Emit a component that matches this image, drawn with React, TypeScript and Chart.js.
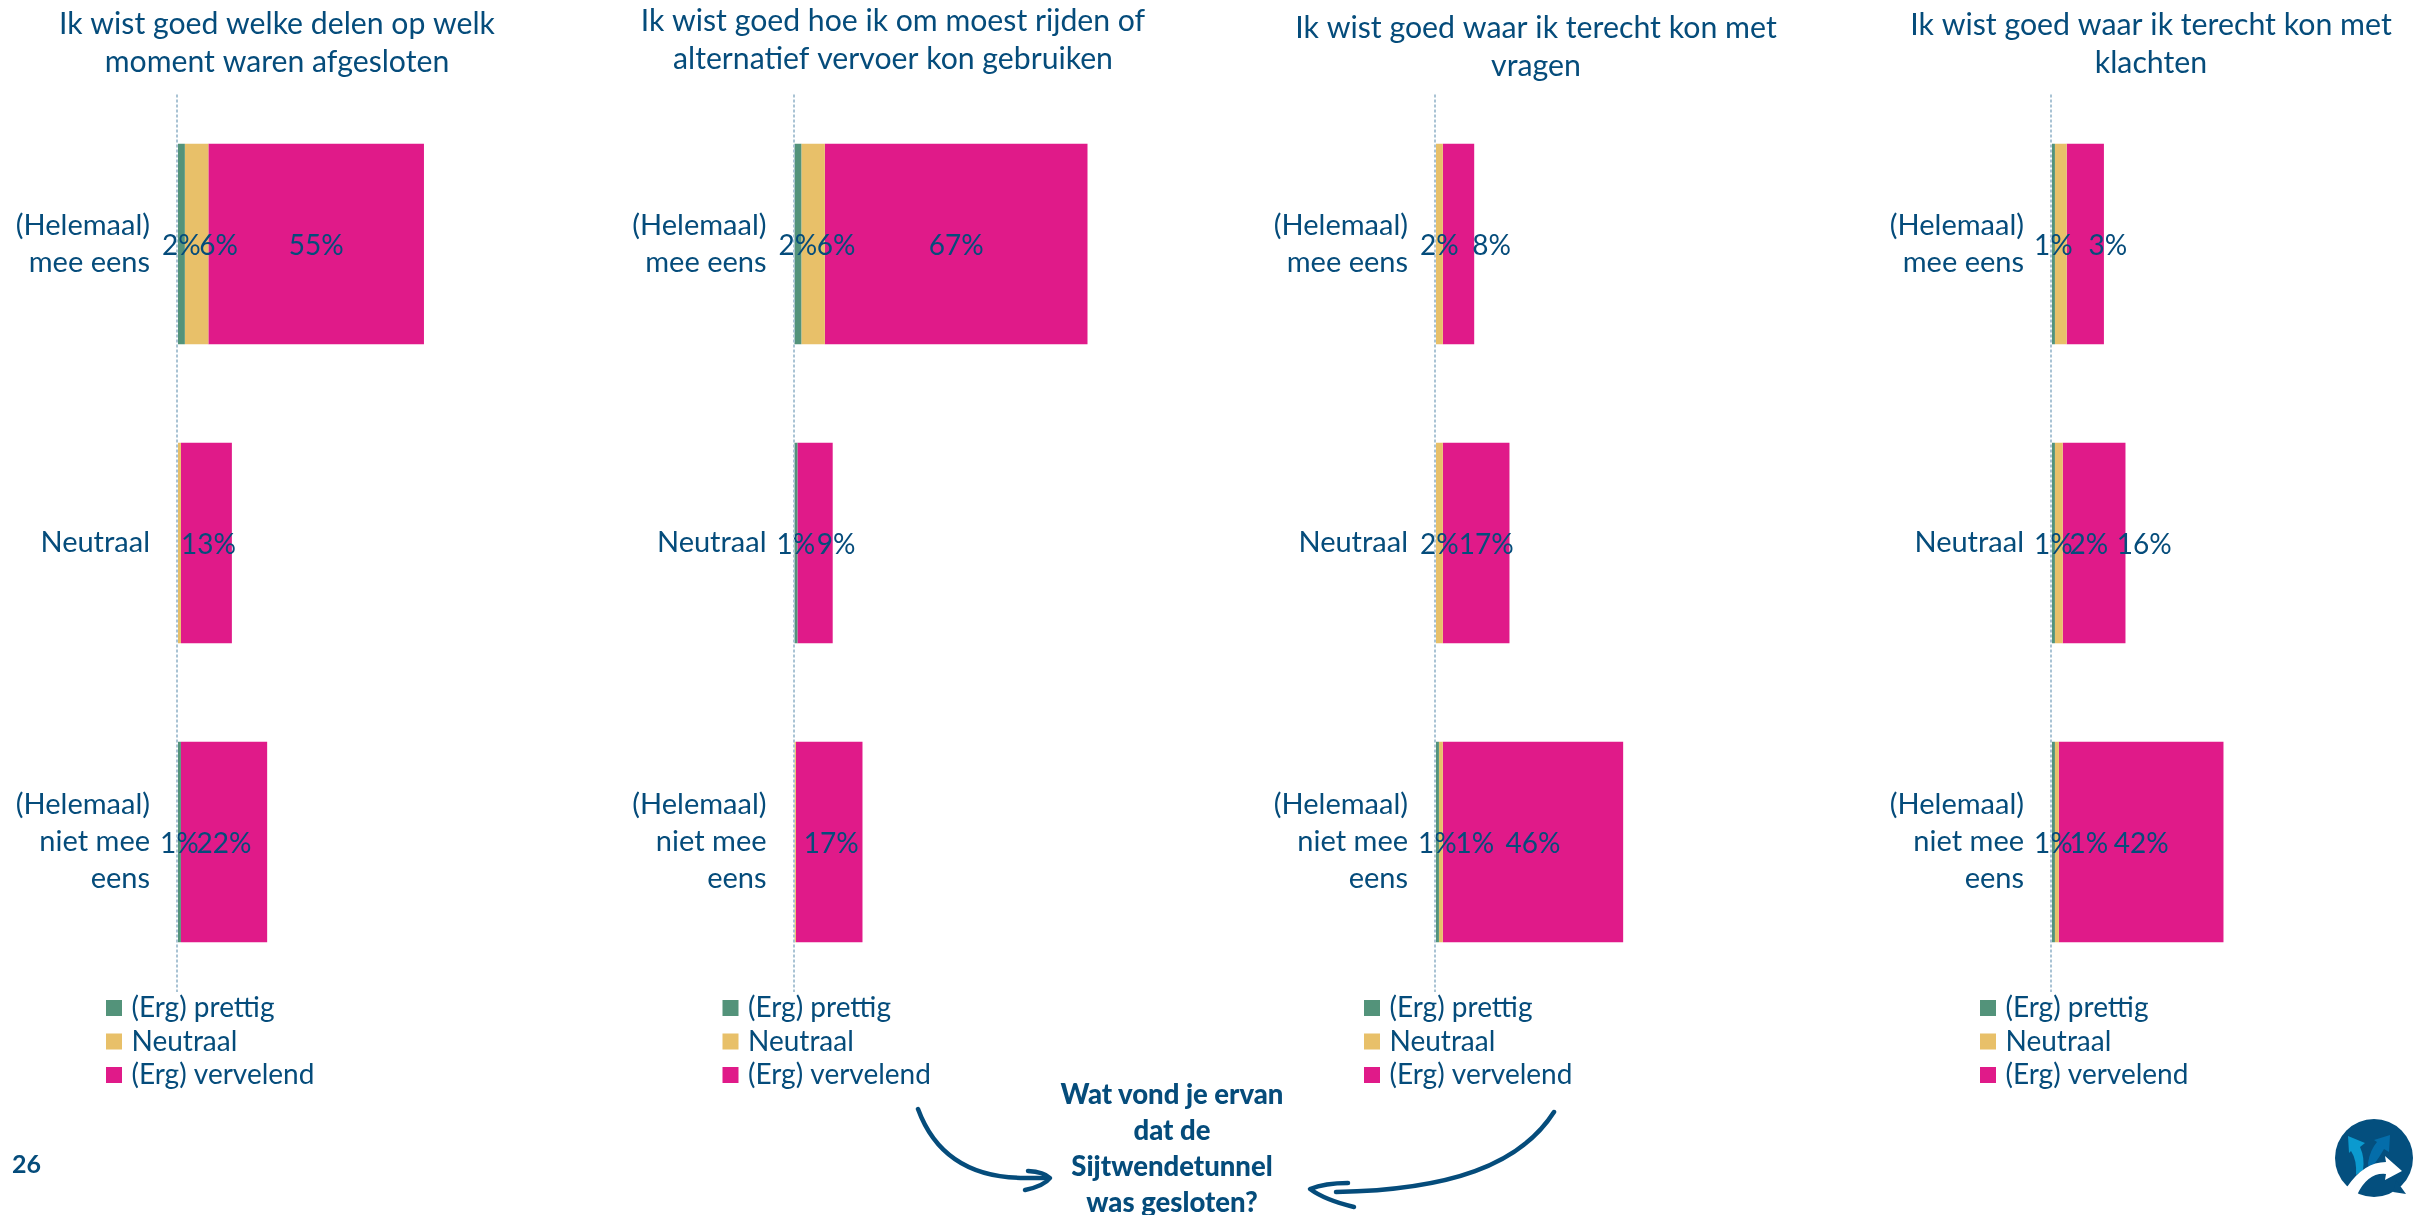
import React, { useEffect, useRef } from "react";
import { Chart, registerables } from "chart.js";

Chart.register(...registerables);

// ---- Data ----
const categories = [["(Helemaal)", "mee eens"], "Neutraal", ["(Helemaal)", "niet mee", "eens"]];
const seriesNames = ["(Erg) prettig", "Neutraal", "(Erg) vervelend"];

const delenPrettig = [2, 0, 1];
const delenNeutraal = [6, 1, 0];
const delenVervelend = [55, 13, 22];

const rijdenPrettig = [2, 1, 0];
const rijdenNeutraal = [6, 0, 0.6];
const rijdenVervelend = [67, 9, 17];

const vragenPrettig = [0, 0, 1];
const vragenNeutraal = [2, 2, 1];
const vragenVervelend = [8, 17, 46];

const klachtenPrettig = [1, 1, 1];
const klachtenNeutraal = [3, 2, 1];
const klachtenVervelend = [9.5, 16, 42];

const titleDeel = [
  ["Ik wist goed welke delen op welk", "moment waren afgesloten"],
  ["Ik wist goed hoe ik om moest rijden of", "alternatief vervoer kon gebruiken"],
  ["Ik wist goed waar ik terecht kon met", "vragen"],
  ["Ik wist goed waar ik terecht kon met", "klachten"],
];

const calloutLines = ["Wat vond je ervan", "dat de", "Sijtwendetunnel", "was gesloten?"];
const pageNumber = "26";

// ---- Styling and layout ----
const INK = "#054C7B";
const COLORS = ["#53937A", "#E8C069", "#E01A89"];
const FONT = "Lato, 'Noto Sans', sans-serif";
const PX_PER_PERCENT = 3.92;
const PLOT_TOP = 94.5;

// Which segments carry a value label, and how far each label sits from its segment centre.
const panels = [
  {
    series: [delenPrettig, delenNeutraal, delenVervelend],
    shown: [[1, 0, 1], [1, 0, 0], [1, 1, 1]],
    nudge: [[0, 0, 0], [22, 0, 0], [0, 2, 0]],
    left: 0, width: 554, axisX: 177, titleSize: 30.2, titleTop: 5.5,
  },
  {
    series: [rijdenPrettig, rijdenNeutraal, rijdenVervelend],
    shown: [[1, 1, 0], [1, 0, 0], [1, 1, 1]],
    nudge: [[0, 0, 0], [23, 0, 0], [0, 21, 2]],
    left: 620, width: 546, axisX: 793.5, titleSize: 30.2, titleTop: 2,
  },
  {
    series: [vragenPrettig, vragenNeutraal, vragenVervelend],
    shown: [[0, 0, 1], [1, 1, 1], [1, 1, 1]],
    nudge: [[0, 0, 0], [0, 0, 34], [33, 10, 0]],
    left: 1266, width: 540, axisX: 1435, titleSize: 30.3, titleTop: 9,
  },
  {
    series: [klachtenPrettig, klachtenNeutraal, klachtenVervelend],
    shown: [[1, 1, 1], [1, 1, 1], [0, 1, 1]],
    nudge: [[0, 0, 0], [47, 30, 32], [0, 50, 0]],
    left: 1881, width: 540, axisX: 2051, titleSize: 30.3, titleTop: 6.5,
  },
];

// Draws the percentage labels on top of the stacked segments.
const valueLabels = {
  id: "valueLabels",
  afterDatasetsDraw(chart, _args, opts) {
    const { ctx } = chart;
    ctx.save();
    ctx.font = `28px ${FONT}`;
    ctx.fillStyle = INK;
    ctx.textAlign = "center";
    ctx.textBaseline = "middle";
    chart.data.datasets.forEach((ds, s) => {
      chart.getDatasetMeta(s).data.forEach((bar, c) => {
        if (!opts.shown[s][c]) return;
        const cx = (bar.x + bar.base) / 2 + opts.nudge[s][c];
        ctx.fillText(`${ds.data[c]}%`, cx, bar.y + 1.5);
      });
    });
    ctx.restore();
  },
};

// Pins the vertical legend below the plot, left of the axis.
const legendPlacement = {
  id: "legendPlacement",
  afterLayout(chart, _args, opts) {
    const lg = chart.legend;
    lg.left = opts.x;
    lg.right = opts.x + 300;
    lg.top = opts.y;
    lg.bottom = opts.y + 130;
  },
};

function Panel({ index }) {
  const ref = useRef(null);
  useEffect(() => {
    const p = panels[index];
    const yWidth = p.axisX - p.left;
    const xMax = (p.width - yWidth) / PX_PER_PERCENT;
    const chart = new Chart(ref.current, {
      type: "bar",
      data: {
        labels: categories,
        datasets: seriesNames.map((name, i) => ({
          label: name,
          data: p.series[i],
          backgroundColor: COLORS[i],
          borderWidth: 0,
          categoryPercentage: 1,
          barPercentage: 0.67,
        })),
      },
      options: {
        indexAxis: "y",
        animation: false,
        responsive: false,
        maintainAspectRatio: false,
        layout: {
          padding: { top: 0, left: 0, bottom: 108.5, right: 0 },
        },
        scales: {
          // Only the grid line at zero is visible: it forms the dashed baseline above the bars.
          x: {
            stacked: true,
            min: 0,
            max: xMax,
            afterFit(scale) {
              scale.height = 0;
            },
            ticks: { display: false },
            border: { display: false, dash: [3, 2] },
            grid: {
              z: 1,
              drawTicks: false,
              lineWidth: 2,
              color: (c) => (c.tick && c.tick.value === 0 ? "#A9C3D4" : "transparent"),
            },
          },
          y: {
            stacked: true,
            afterFit(scale) {
              scale.width = yWidth;
            },
            grid: { display: false, drawTicks: false },
            border: { display: false },
            ticks: {
              color: INK,
              padding: 27,
              font: { family: FONT, size: 29, lineHeight: 37 / 29 },
            },
          },
        },
        plugins: {
          title: {
            display: true,
            text: titleDeel[index],
            color: INK,
            align: "center",
            font: { family: FONT, size: p.titleSize, weight: "normal", lineHeight: 38 / p.titleSize },
            padding: { top: p.titleTop, bottom: PLOT_TOP - 76 - p.titleTop },
          },
          legend: {
            display: true,
            position: "chartArea",
            align: "start",
            labels: {
              color: INK,
              usePointStyle: true,
              pointStyle: "rect",
              boxWidth: 7,
              boxHeight: 16,
              padding: 5.5,
              font: { family: FONT, size: 28 },
            },
          },
          tooltip: { enabled: false },
          valueLabels: { shown: p.shown, nudge: p.nudge },
          legendPlacement: { x: p.axisX - 71 + 4.5 - 5.5 - p.left, y: 988.5 },
        },
      },
      plugins: [valueLabels, legendPlacement],
    });
    return () => chart.destroy();
  }, [index]);
  const p = panels[index];
  return (
    <canvas
      ref={ref}
      width={p.width}
      height={1100}
      style={{ position: "absolute", left: p.left, top: 0, width: p.width, height: 1100 }}
    />
  );
}

// Hand-drawn arrows, callout text, page number and the round logo.
function Annotations() {
  const stroke = { fill: "none", stroke: INK, strokeWidth: 4.5, strokeLinecap: "round", strokeLinejoin: "round" };
  return (
    <svg width={2425} height={1215} style={{ position: "absolute", left: 0, top: 0 }}>
      <path d="M918 1109 C933 1150 965 1178 1025 1178 L1047 1178" {...stroke} />
      <path d="M1028 1171 Q1044 1172 1050 1178 Q1044 1186 1025 1190" {...stroke} />
      <path d="M1554 1112 C1520 1165 1450 1190 1336 1192" {...stroke} />
      <path d="M1348 1183 Q1325 1183 1310 1189 Q1325 1200 1354 1207" {...stroke} />
      <g fill={INK} fontFamily={FONT} fontWeight={900} fontSize={27.5} textAnchor="middle">
        {calloutLines.map((line, i) => (
          <text key={line} x={1172} y={1104 + i * 36}>{line}</text>
        ))}
      </g>
      <text x={12} y={1173} fill={INK} fontFamily={FONT} fontWeight={700} fontSize={25}>{pageNumber}</text>
      <circle cx={2374} cy={1158} r={39} fill="#044F7E" />
      <path d="M2396 1180 L2406 1194 L2393 1192 Z" fill="#044F7E" />
      <path d="M2348 1136 L2365 1143 L2360 1147 Q2365 1158 2363 1170 L2356 1175 Q2357 1160 2351 1151 L2349 1153 Z" fill="#0B9ACF" />
      <path d="M2390 1135 L2389 1152 L2384 1149 Q2376 1163 2369 1170 L2368 1163 Q2370 1150 2377 1142 L2374 1140 Z" fill="#046DAA" />
      <path d="M2347 1187 Q2364 1162 2386 1162 L2385 1156 L2402 1171 L2385 1180 L2386 1174 Q2368 1172 2357 1195 Z" fill="#FFFFFF" />
    </svg>
  );
}

export default function App() {
  return (
    <div style={{ position: "absolute", left: 0, top: 0, width: 2425, height: 1215, overflow: "hidden", background: "#fff" }}>
      {panels.map((_, i) => (
        <Panel key={i} index={i} />
      ))}
      <Annotations />
    </div>
  );
}
